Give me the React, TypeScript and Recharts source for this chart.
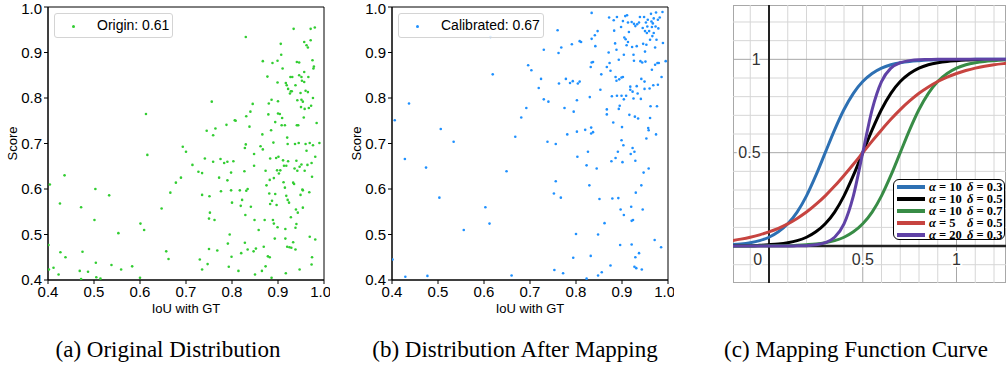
import React from 'react';
import {
  ScatterChart, Scatter, LineChart, Line, XAxis, YAxis, Legend,
  ReferenceArea, ReferenceLine, ReferenceDot,
} from 'recharts';

const SANS = '"Liberation Sans", Arial, sans-serif';
const SERIF = '"Liberation Serif", "Times New Roman", serif';

// (a) IoU vs score before mapping
const originLabel = 'Origin: 0.61';
const originPoints: [number, number][] = [
  [0.401,0.477],[0.404,0.61],[0.402,0.423],[0.412,0.427],[0.423,0.412],[0.426,0.568],[0.427,0.461],[0.436,0.63],[0.438,0.45],[0.469,0.42],
  [0.472,0.56],[0.475,0.462],[0.472,0.402],[0.487,0.418],[0.503,0.6],[0.501,0.532],[0.504,0.438],[0.505,0.406],[0.514,0.403],[0.533,0.586],
  [0.538,0.433],[0.553,0.503],[0.559,0.423],[0.583,0.43],[0.6,0.405],[0.601,0.524],[0.609,0.51],[0.613,0.765],[0.616,0.675],[0.647,0.557],
  [0.657,0.463],[0.662,0.446],[0.666,0.592],[0.678,0.614],[0.689,0.625],[0.693,0.693],[0.7,0.682],[0.714,0.653],[0.727,0.638],[0.73,0.445],
  [0.735,0.635],[0.735,0.423],[0.735,0.587],[0.741,0.667],[0.745,0.728],[0.747,0.435],[0.75,0.468],[0.751,0.584],[0.75,0.535],[0.752,0.548],
  [0.756,0.792],[0.759,0.718],[0.759,0.66],[0.764,0.733],[0.762,0.532],[0.768,0.465],[0.772,0.625],[0.775,0.666],[0.776,0.595],[0.783,0.657],
  [0.788,0.741],[0.79,0.66],[0.79,0.619],[0.791,0.48],[0.793,0.429],[0.795,0.5],[0.798,0.636],[0.798,0.597],[0.799,0.451],[0.8,0.57],
  [0.803,0.661],[0.806,0.751],[0.808,0.75],[0.814,0.42],[0.817,0.597],[0.819,0.563],[0.82,0.459],[0.822,0.576],[0.827,0.639],[0.828,0.482],
  [0.829,0.543],[0.83,0.934],[0.828,0.69],[0.83,0.698],[0.831,0.596],[0.831,0.76],[0.834,0.6],[0.834,0.467],[0.838,0.737],[0.84,0.77],
  [0.841,0.561],[0.845,0.787],[0.847,0.463],[0.849,0.532],[0.85,0.412],[0.848,0.677],[0.848,0.651],[0.852,0.469],[0.858,0.51],[0.862,0.694],
  [0.865,0.42],[0.866,0.72],[0.867,0.881],[0.867,0.687],[0.869,0.473],[0.871,0.532],[0.873,0.64],[0.873,0.43],[0.875,0.608],[0.877,0.847],
  [0.878,0.452],[0.879,0.764],[0.88,0.788],[0.881,0.59],[0.882,0.62],[0.882,0.45],[0.883,0.667],[0.883,0.567],[0.885,0.729],[0.886,0.796],
  [0.886,0.405],[0.887,0.574],[0.888,0.877],[0.889,0.532],[0.89,0.702],[0.891,0.524],[0.891,0.624],[0.893,0.491],[0.894,0.747],[0.894,0.589],
  [0.896,0.668],[0.897,0.565],[0.898,0.641],[0.899,0.516],[0.899,0.882],[0.899,0.834],[0.9,0.793],[0.9,0.766],[0.901,0.671],[0.902,0.634],
  [0.904,0.765],[0.905,0.641],[0.906,0.919],[0.907,0.895],[0.908,0.74],[0.909,0.756],[0.91,0.865],[0.911,0.663],[0.912,0.615],[0.913,0.651],
  [0.915,0.74],[0.915,0.603],[0.916,0.512],[0.916,0.491],[0.917,0.833],[0.917,0.415],[0.918,0.651],[0.918,0.585],[0.919,0.828],[0.92,0.473],
  [0.92,0.713],[0.921,0.699],[0.921,0.576],[0.922,0.82],[0.922,0.661],[0.924,0.57],[0.925,0.472],[0.926,0.81],[0.927,0.846],[0.928,0.815],
  [0.928,0.538],[0.929,0.471],[0.93,0.815],[0.931,0.846],[0.933,0.614],[0.933,0.483],[0.934,0.952],[0.935,0.611],[0.936,0.645],[0.937,0.699],
  [0.938,0.515],[0.938,0.828],[0.938,0.467],[0.939,0.555],[0.94,0.662],[0.94,0.523],[0.941,0.879],[0.941,0.74],[0.942,0.795],[0.942,0.64],
  [0.943,0.548],[0.944,0.74],[0.945,0.701],[0.946,0.878],[0.946,0.85],[0.947,0.649],[0.947,0.423],[0.949,0.811],[0.949,0.587],[0.95,0.78],
  [0.951,0.654],[0.951,0.846],[0.951,0.796],[0.952,0.838],[0.953,0.599],[0.954,0.559],[0.954,0.597],[0.954,0.792],[0.956,0.757],[0.957,0.923],
  [0.957,0.857],[0.957,0.835],[0.958,0.776],[0.958,0.64],[0.96,0.699],[0.96,0.816],[0.962,0.916],[0.962,0.684],[0.964,0.653],[0.965,0.813],
  [0.965,0.911],[0.966,0.846],[0.967,0.778],[0.968,0.593],[0.969,0.495],[0.969,0.701],[0.971,0.927],[0.971,0.952],[0.972,0.783],[0.973,0.657],
  [0.973,0.434],[0.974,0.45],[0.974,0.627],[0.975,0.883],[0.976,0.696],[0.976,0.8],[0.977,0.865],[0.978,0.869],[0.98,0.955],[0.981,0.671],
  [0.981,0.489],[0.984,0.745],[0.99,0.701],
];

// (b) after mapping
const calibLabel = 'Calibrated: 0.67';
const calibPoints: [number, number][] = [
  [0.401,0.445],[0.406,0.751],[0.428,0.666],[0.429,0.407],[0.437,0.788],[0.474,0.647],[0.477,0.409],[0.503,0.581],[0.506,0.732],[0.534,0.704],
  [0.556,0.51],[0.603,0.56],[0.612,0.524],[0.614,0.934],[0.619,0.852],[0.649,0.639],[0.66,0.41],[0.668,0.715],[0.681,0.757],[0.692,0.778],
  [0.696,0.872],[0.703,0.861],[0.719,0.822],[0.724,0.842],[0.73,0.797],[0.73,0.906],[0.738,0.704],[0.74,0.792],[0.752,0.59],[0.753,0.422],
  [0.756,0.699],[0.756,0.617],[0.76,0.949],[0.762,0.899],[0.763,0.832],[0.767,0.581],[0.768,0.911],[0.772,0.415],[0.775,0.778],[0.778,0.842],
  [0.781,0.72],[0.787,0.833],[0.791,0.918],[0.793,0.837],[0.795,0.77],[0.794,0.449],[0.8,0.501],[0.802,0.795],[0.802,0.726],[0.803,0.671],
  [0.804,0.832],[0.808,0.836],[0.808,0.925],[0.811,0.923],[0.82,0.73],[0.823,0.403],[0.823,0.652],[0.826,0.682],[0.829,0.608],[0.83,0.802],
  [0.832,0.453],[0.832,0.868],[0.834,0.987],[0.834,0.93],[0.834,0.878],[0.833,0.735],[0.833,0.722],[0.837,0.879],[0.837,0.725],[0.841,0.938],
  [0.842,0.914],[0.845,0.645],[0.847,0.947],[0.848,0.41],[0.848,0.5],[0.851,0.578],[0.853,0.818],[0.855,0.852],[0.856,0.417],[0.862,0.525],
  [0.867,0.868],[0.867,0.775],[0.867,0.764],[0.871,0.9],[0.872,0.977],[0.873,0.877],[0.875,0.86],[0.875,0.432],[0.877,0.661],[0.878,0.804],
  [0.879,0.579],[0.881,0.746],[0.882,0.971],[0.883,0.948],[0.885,0.92],[0.886,0.668],[0.886,0.846],[0.888,0.838],[0.888,0.906],[0.889,0.978],
  [0.889,0.805],[0.891,0.682],[0.892,0.58],[0.893,0.776],[0.893,0.884],[0.894,0.841],[0.895,0.783],[0.896,0.477],[0.897,0.555],[0.898,0.956],
  [0.899,0.805],[0.899,0.707],[0.899,0.845],[0.9,0.736],[0.901,0.659],[0.902,0.846],[0.902,0.969],[0.903,0.696],[0.904,0.543],[0.904,0.797],
  [0.904,0.895],[0.905,0.933],[0.907,0.98],[0.908,0.929],[0.909,0.805],[0.91,0.916],[0.911,0.982],[0.913,0.923],[0.913,0.966],[0.915,0.945],
  [0.916,0.763],[0.918,0.825],[0.918,0.818],[0.919,0.677],[0.92,0.561],[0.921,0.478],[0.921,0.53],[0.921,0.967],[0.922,0.912],[0.923,0.814],
  [0.923,0.69],[0.924,0.532],[0.925,0.895],[0.925,0.799],[0.926,0.963],[0.926,0.882],[0.927,0.682],[0.927,0.429],[0.928,0.759],[0.929,0.662],
  [0.929,0.958],[0.929,0.45],[0.93,0.592],[0.931,0.426],[0.932,0.826],[0.932,0.914],[0.933,0.962],[0.934,0.81],[0.935,0.755],[0.937,0.966],
  [0.937,0.459],[0.939,0.978],[0.94,0.881],[0.941,0.798],[0.942,0.608],[0.942,0.842],[0.943,0.423],[0.944,0.878],[0.945,0.954],[0.945,0.555],
  [0.946,0.919],[0.947,0.636],[0.948,0.978],[0.949,0.836],[0.949,0.82],[0.95,0.902],[0.95,0.947],[0.951,0.88],[0.952,0.966],[0.953,0.917],
  [0.953,0.711],[0.954,0.943],[0.955,0.957],[0.956,0.972],[0.957,0.734],[0.958,0.645],[0.958,0.729],[0.959,0.947],[0.96,0.821],[0.961,0.756],
  [0.961,0.928],[0.962,0.782],[0.963,0.985],[0.964,0.968],[0.965,0.956],[0.965,0.862],[0.966,0.936],[0.967,0.964],[0.968,0.828],[0.969,0.943],
  [0.969,0.975],[0.971,0.488],[0.972,0.873],[0.972,0.911],[0.973,0.957],[0.974,0.72],[0.974,0.988],[0.975,0.928],[0.976,0.782],[0.977,0.877],
  [0.978,0.829],[0.978,0.972],[0.979,0.953],[0.98,0.877],[0.982,0.977],[0.985,0.472],[0.986,0.846],[0.988,0.989],[0.989,0.921],[0.995,0.881],
];

const scatterTicks = [0.4, 0.5, 0.6, 0.7, 0.8, 0.9, 1.0];

// (c) mapping curves, sampled every 0.05
const curveX = [-0.2,-0.15,-0.1,-0.05,0,0.05,0.1,0.15,0.2,0.25,0.3,0.35,0.4,0.45,0.5,0.55,0.6,0.65,0.7,0.75,0.8,0.85,0.9,0.95,1,1.05,1.1,1.15,1.2,1.25,1.3];
const blueY = [0.007,0.011,0.018,0.029,0.047,0.076,0.119,0.182,0.269,0.378,0.5,0.622,0.731,0.818,0.881,0.924,0.953,0.971,0.982,0.989,0.993,0.996,0.998,0.998,0.999,0.999,1,1,1,1,1];
const blackY = [0.001,0.002,0.002,0.004,0.007,0.011,0.018,0.029,0.047,0.076,0.119,0.182,0.269,0.378,0.5,0.622,0.731,0.818,0.881,0.924,0.953,0.971,0.982,0.989,0.993,0.996,0.998,0.998,0.999,0.999,1];
const greenY = [0,0,0,0.001,0.001,0.002,0.002,0.004,0.007,0.011,0.018,0.029,0.047,0.076,0.119,0.182,0.269,0.378,0.5,0.622,0.731,0.818,0.881,0.924,0.953,0.971,0.982,0.989,0.993,0.996,0.998];
const redY = [0.029,0.037,0.047,0.06,0.076,0.095,0.119,0.148,0.182,0.223,0.269,0.321,0.378,0.438,0.5,0.562,0.622,0.679,0.731,0.777,0.818,0.852,0.881,0.905,0.924,0.94,0.953,0.963,0.971,0.977,0.982];
const purpleY = [0,0,0,0,0,0,0,0.001,0.002,0.007,0.018,0.047,0.119,0.269,0.5,0.731,0.881,0.953,0.982,0.993,0.998,0.999,1,1,1,1,1,1,1,1,1];

const curveKeys = ['blue', 'black', 'green', 'red', 'purple'];
const curveColors = ['#2d70b3', '#000000', '#388c46', '#c74440', '#6042a6'];
const curveAlpha = ['10', '10', '10', '5', '20'];
const curveDelta = ['0.3', '0.5', '0.7', '0.5', '0.3'];
const curveValues = [blueY, blackY, greenY, redY, purpleY];

const gridMinor = [-0.1, 0.1, 0.2, 0.3, 0.4, 0.6, 0.7, 0.8, 0.9, 1.1, 1.2];
const gridMajor = [0.5, 1];
const xTickLabels = [{ v: 0, at: -0.06, t: '0' }, { v: 0.5, at: 0.5, t: '0.5' }, { v: 1, at: 1, t: '1' }];
const yTickLabels = [{ v: 0.5, t: '0.5' }, { v: 1, t: '1' }];

const curveData = curveX.map((x, i) => {
  const row: any = { x };
  curveKeys.forEach((k, j) => { row[k] = curveValues[j][i]; });
  return row;
});

const toXY = (pts: [number, number][]) => pts.map(([x, y]) => ({ x, y }));

const dot = (color: string) => (props: any) => (
  <circle cx={props.cx} cy={props.cy} r={1.3} fill={color} />
);

const scatterLegend = (color: string, width: number) => (props: any) => {
  const item = props.payload && props.payload[0];
  return (
    <div style={{
      width, height: 25, boxSizing: 'border-box', border: '1px solid #d4d4d4', borderRadius: 3,
      background: 'rgba(255,255,255,0.85)', position: 'relative', fontFamily: SANS, fontSize: 14,
    }}>
      <span style={{ position: 'absolute', left: 17, top: 11, width: 3, height: 3, borderRadius: 2, background: color }} />
      <span style={{ position: 'absolute', left: 42, top: 3, color: '#000', whiteSpace: 'nowrap' }}>{item ? item.value : ''}</span>
    </div>
  );
};

const ScatterPanel = ({ left, points, color, label, legendWidth }: any) => (
  <div style={{ position: 'absolute', left, top: 0 }}>
    <ScatterChart width={330} height={320} margin={{ top: 7, right: 6, bottom: 10, left: 0 }}>
      <XAxis
        type="number" dataKey="x" domain={[0.4, 1]} ticks={scatterTicks} allowDataOverflow
        tickFormatter={(v: number) => v.toFixed(1)} stroke="#000" tickSize={4} height={30}
        tick={{ fill: '#000', fontSize: 15, fontFamily: SANS }}
        label={{ value: 'IoU with GT', position: 'insideBottom', offset: -3, fill: '#000', fontSize: 13, fontFamily: SANS }}
      />
      <YAxis
        type="number" dataKey="y" domain={[0.4, 1]} ticks={scatterTicks} allowDataOverflow
        tickFormatter={(v: number) => v.toFixed(1)} stroke="#000" tickSize={4} width={48}
        tick={{ fill: '#000', fontSize: 15, fontFamily: SANS }}
        label={{ value: 'Score', angle: -90, position: 'insideLeft', offset: 12, fill: '#000', fontSize: 13, fontFamily: SANS, style: { textAnchor: 'middle' } }}
      />
      <ReferenceArea x1={0.4} x2={1} y1={0.4} y2={1} fill="none" stroke="#000" strokeWidth={1} />
      <Scatter name={label} data={toXY(points)} fill={color} shape={dot(color)} isAnimationActive={false} />
      <Legend
        layout="vertical" align="center" verticalAlign="middle"
        wrapperStyle={{ left: 54, top: 13, width: legendWidth }}
        content={scatterLegend(color, legendWidth)}
      />
    </ScatterChart>
  </div>
);

const haloText = (text: string, anchor: string) => (props: any) => {
  const vb = props.viewBox || {};
  const x = vb.x + (vb.width || 0) / 2;
  const y = vb.y + (vb.height || 0) / 2;
  return (
    <text x={x} y={y} textAnchor={anchor} dominantBaseline="central" fontSize={16} fontFamily={SANS}
      fill="#333" stroke="#fff" strokeWidth={4} paintOrder="stroke">{text}</text>
  );
};

const curveLegend = (props: any) => {
  const items = [...(props.payload || [])].sort(
    (a: any, b: any) => curveKeys.indexOf(a.dataKey) - curveKeys.indexOf(b.dataKey),
  );
  return (
    <div style={{
      width: 112, height: 61, boxSizing: 'border-box', border: '1px solid #000', borderRadius: 6,
      background: '#fff', padding: '1px 0 0 3px', fontFamily: SERIF, fontWeight: 'bold', fontSize: 12.5,
    }}>
      {items.map((p: any) => {
        const i = curveKeys.indexOf(p.dataKey);
        return (
          <div key={p.dataKey} style={{ height: 12, display: 'flex', alignItems: 'center', whiteSpace: 'pre', lineHeight: '12px' }}>
            <span style={{ display: 'inline-block', width: 28, height: 4, background: curveColors[i], marginRight: 4 }} />
            <span style={{ display: 'inline-block', width: 38 }}><i>α</i> = {curveAlpha[i]}</span>
            <span><i>δ</i> = {curveDelta[i]}</span>
          </div>
        );
      })}
    </div>
  );
};

const CurvePanel = () => (
  <div style={{ position: 'absolute', left: 733, top: 5 }}>
    <LineChart width={273} height={278} data={curveData} margin={{ top: 0, right: 0, bottom: 0, left: 0 }}>
      <XAxis type="number" dataKey="x" domain={[-0.192, 1.264]} allowDataOverflow hide />
      <YAxis type="number" domain={[-0.198, 1.291]} allowDataOverflow hide />
      {gridMinor.map((v) => <ReferenceLine key={'vx' + v} x={v} stroke="#d6d6d6" strokeWidth={1} />)}
      {gridMinor.map((v) => <ReferenceLine key={'hy' + v} y={v} stroke="#d6d6d6" strokeWidth={1} />)}
      {gridMajor.map((v) => <ReferenceLine key={'VX' + v} x={v} stroke="#a8a8a8" strokeWidth={1} />)}
      {gridMajor.map((v) => <ReferenceLine key={'HY' + v} y={v} stroke="#a8a8a8" strokeWidth={1} />)}
      <ReferenceLine x={0} stroke="#222" strokeWidth={2} />
      <ReferenceLine y={0} stroke="#222" strokeWidth={2.5} />
      <ReferenceArea x1={-0.192} x2={1.264} y1={-0.198} y2={1.291} fill="none" stroke="#a8a8a8" strokeWidth={2} />
      {curveKeys.map((k, i) => (
        <Line key={k} type="monotone" dataKey={k} name={k} stroke={curveColors[i]} strokeWidth={3}
          dot={false} isAnimationActive={false} />
      ))}
      {xTickLabels.map((d) => (
        <ReferenceDot key={'xl' + d.t} x={d.at} y={-0.073} r={0} fill="none" stroke="none" label={haloText(d.t, 'middle')} />
      ))}
      {yTickLabels.map((d) => (
        <ReferenceDot key={'yl' + d.t} x={-0.045} y={d.v} r={0} fill="none" stroke="none" label={haloText(d.t, 'end')} />
      ))}
      <Legend layout="vertical" align="center" verticalAlign="middle"
        wrapperStyle={{ left: 160, top: 174, width: 112 }} content={curveLegend} />
    </LineChart>
  </div>
);

const captions = [
  { c: 168, t: '(a) Original Distribution' },
  { c: 515, t: '(b) Distribution After Mapping' },
  { c: 856, t: '(c) Mapping Function Curve' },
];

export default function App() {
  return (
    <div style={{ position: 'absolute', left: 0, top: 0, width: 1006, height: 367, overflow: 'hidden', background: '#fff' }}>
      <ScatterPanel left={0} points={originPoints} color="#32cd32" label={originLabel} legendWidth={119} />
      <ScatterPanel left={344} points={calibPoints} color="#1e90ff" label={calibLabel} legendWidth={146} />
      <CurvePanel />
      {captions.map((c) => (
        <div key={c.t} style={{
          position: 'absolute', left: c.c - 200, width: 400, top: 336, lineHeight: '28px',
          textAlign: 'center', fontFamily: SERIF, fontSize: 23, color: '#000',
        }}>{c.t}</div>
      ))}
    </div>
  );
}
